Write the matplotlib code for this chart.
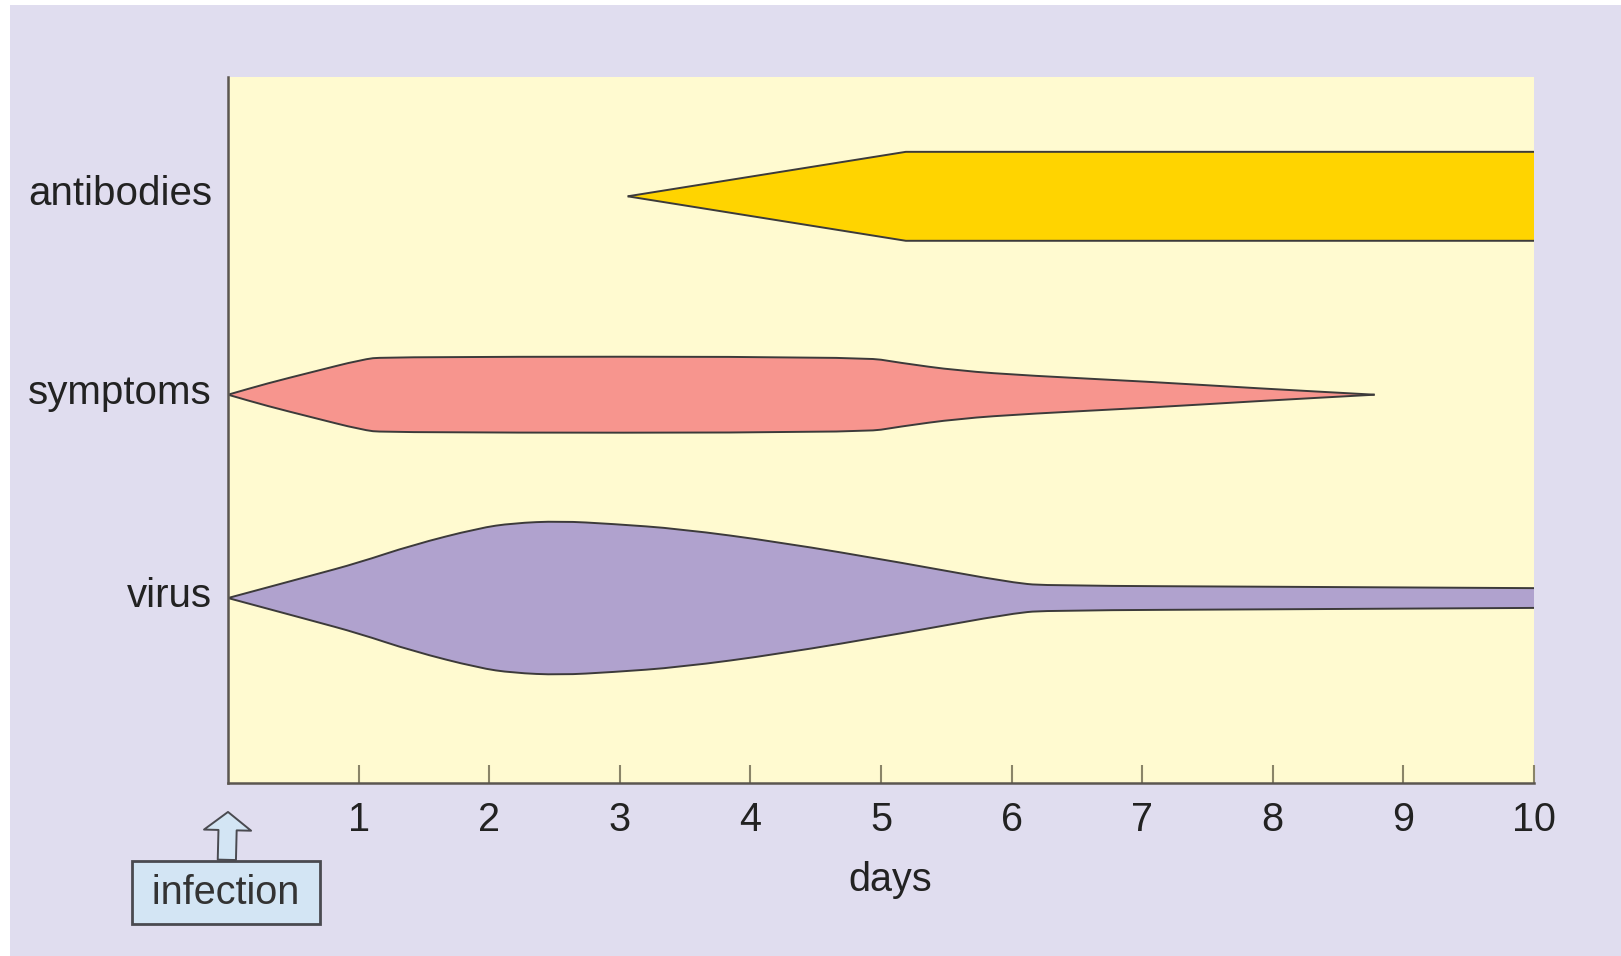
import matplotlib
matplotlib.use("Agg")
import matplotlib.pyplot as plt
from matplotlib.patches import Rectangle, PathPatch
from matplotlib.path import Path
import matplotlib.transforms as mtransforms

plt.rcParams['font.family'] = ['Liberation Sans', 'DejaVu Sans']

# ---- data ----
categories = ["antibodies", "symptoms", "virus"]
centers = [83.1, 55.0, 26.2]          # band centre on a 0-100 vertical scale

antibodies_days = [3.06, 5.19, 10.0]
antibodies_half = [0.0, 6.3, 6.3]

symptoms_days = [0.0, 0.3, 0.64, 1.02, 1.2, 4.86, 5.14, 5.59, 6.14, 7.05, 7.87, 8.78]
symptoms_half = [0.0, 1.6, 3.19, 4.96, 5.38, 5.38, 4.53, 3.4, 2.69, 1.84, 0.92, 0.0]

virus_days = [0.0, 0.64, 1.0, 1.41, 1.92, 2.18, 2.54, 2.94, 3.46, 4.23, 5.16, 6.02, 6.3, 8.0, 10.0]
virus_half = [0.0, 3.19, 5.0, 7.5, 9.9, 10.6, 10.9, 10.5, 9.8, 7.9, 5.0, 2.1, 1.75, 1.6, 1.4]

x_ticks = [1, 2, 3, 4, 5, 6, 7, 8, 9, 10]
x_label = "days"
note = "infection"

series = [
    (antibodies_days, antibodies_half, "#FFD400", False),
    (symptoms_days, symptoms_half, "#F7958E", True),
    (virus_days, virus_half, "#B0A2CE", True),
]


def edge_path(xs, ys, smooth):
    pts = list(zip(xs, ys))
    if not smooth or len(pts) < 3:
        return pts, [Path.MOVETO] + [Path.LINETO] * (len(pts) - 1)
    verts = [pts[0]]
    codes = [Path.MOVETO]
    mid = lambda a, b: ((a[0] + b[0]) / 2, (a[1] + b[1]) / 2)
    verts.append(mid(pts[0], pts[1])); codes.append(Path.LINETO)
    for i in range(1, len(pts) - 1):
        verts += [pts[i], mid(pts[i], pts[i + 1])]
        codes += [Path.CURVE3, Path.CURVE3]
    verts.append(pts[-1]); codes.append(Path.LINETO)
    return verts, codes


W, H = 1621, 956
fig = plt.figure(figsize=(W / 100, H / 100), dpi=100, facecolor="white")
fig.patches.append(Rectangle((10 / W, 0), 1 - 10 / W, 1 - 5 / H, transform=fig.transFigure,
                             facecolor="#E0DDEF", edgecolor="none", zorder=-10))

ax = fig.add_axes([228 / W, 1 - 783 / H, 1306 / W, 706 / H])
ax.set_facecolor("#FFFAD0")
ax.set_xlim(0, 10)
ax.set_ylim(0, 100)

edge = "#3C3A3A"
for (days, half, color, smooth), c in zip(series, centers):
    top = [c + h for h in half]
    bot = [c - h for h in half]
    tv, tc = edge_path(days, top, smooth)
    bv, bc = edge_path(days, bot, smooth)
    # closed outline for the fill: top forward, bottom backward
    rb_v = bv[::-1]
    rb_c = [Path.LINETO] + bc[1:][::-1]
    # reverse codes correctly: segments keep their types when reversed
    fill_v = list(tv) + list(rb_v) + [tv[0]]
    fill_c = list(tc) + [Path.LINETO] + bc[::-1][:-1] + [Path.CLOSEPOLY]
    ax.add_patch(PathPatch(Path(fill_v, fill_c), facecolor=color, edgecolor="none", zorder=2))
    ax.add_patch(PathPatch(Path(tv, tc), facecolor="none", edgecolor=edge, lw=1.4, zorder=3))
    ax.add_patch(PathPatch(Path(bv, bc), facecolor="none", edgecolor=edge, lw=1.4, zorder=3))

for s in ["top", "right"]:
    ax.spines[s].set_visible(False)
for s in ["left", "bottom"]:
    ax.spines[s].set_color("#5B5650")
    ax.spines[s].set_linewidth(1.8)
    ax.spines[s].set_zorder(5)

ax.set_xticks(x_ticks)
ax.set_xticklabels([str(t) for t in x_ticks])
ax.tick_params(axis="x", direction="in", length=13, width=1.5, color="#8A8468",
               pad=13, labelsize=28.5, labelcolor="#222222")
ax.set_yticks([])

ax.set_xlabel(x_label, fontsize=28.5, color="#222222")
ax.xaxis.set_label_coords(0.507, -0.110)

# category labels to the left of the axes
offset = mtransforms.offset_copy(ax.get_yaxis_transform(), fig=fig, x=-16, y=-9, units="dots")
for name, c in zip(categories, centers):
    ax.text(0, c, name, transform=offset, ha="right", va="baseline",
            fontsize=29, color="#222222")

# infection marker
ax.annotate("\u2009" + note + "\u2009", xy=(0, -0.041), xycoords=("data", "axes fraction"),
            xytext=(-1.4, -58), textcoords="offset points",
            ha="center", va="center", fontsize=28.5, color="#333333",
            bbox=dict(boxstyle="square,pad=0.32", fc="#D3E5F4", ec="#4A4A50", lw=2.0),
            arrowprops=dict(arrowstyle="simple,head_length=0.46,head_width=1.19,tail_width=0.46",
                            fc="#D3E5F4", ec="#4A4A50", lw=1.4, shrinkA=0, shrinkB=0),
            annotation_clip=False)

fig.savefig("out.png", dpi=100, facecolor=fig.get_facecolor())
